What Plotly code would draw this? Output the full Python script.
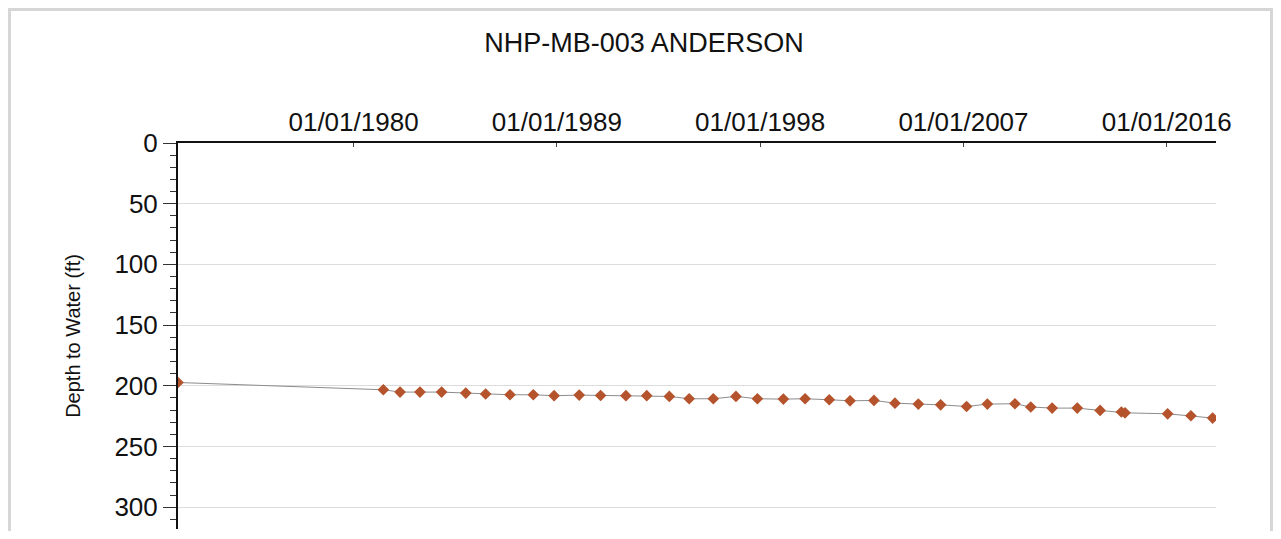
import plotly.graph_objects as go

dates = [
    "1972-03-25", "1981-04-27", "1982-01-22", "1982-12-10", "1983-11-25",
    "1984-12-20", "1985-11-06", "1986-12-05", "1987-12-17", "1988-11-17",
    "1989-12-28", "1990-12-09", "1992-01-22", "1992-12-24", "1993-12-24",
    "1994-11-10", "1995-12-05", "1996-12-05", "1997-11-17", "1999-01-11",
    "1999-12-28", "2001-01-22", "2001-12-24", "2003-01-15", "2003-12-20",
    "2005-01-01", "2005-12-28", "2007-02-20", "2008-01-22", "2009-04-12",
    "2009-12-24", "2010-12-05", "2012-01-15", "2013-01-18", "2013-12-28",
    "2014-02-25", "2016-01-15", "2017-01-25", "2018-01-11",
]
depth_ft = [
    197.3, 203.3, 205.2, 205.2, 205.2,
    206.0, 206.8, 207.4, 207.4, 208.2,
    207.7, 208.0, 208.2, 208.2, 208.8,
    210.7, 210.7, 208.8, 210.7, 211.0,
    210.7, 211.5, 212.4, 212.1, 214.3,
    215.1, 215.7, 217.1, 215.1, 214.8,
    217.5, 218.4, 218.4, 220.3, 221.6,
    222.3, 223.1, 224.7, 226.6,
]

title_text = "NHP-MB-003 ANDERSON"
y_title = "Depth to Water (ft)"
x_range = ["1972-03-25", "2018-03-07"]
y_range = [318, 0]

fig = go.Figure()
fig.add_trace(go.Scatter(
    x=dates, y=depth_ft, mode="lines+markers",
    line=dict(color="#8c8c8c", width=1),
    marker=dict(symbol="diamond", size=9, color="#b4532c",
                line=dict(width=0)),
    showlegend=False,
))

OFF = 8  # page body offset
W, H = 1265, 523
L, T = 178 - OFF, 143 - OFF
R = W - (1216 - OFF)
B = H - (529 - OFF)
pw, ph = W - L - R, H - T - B

def px_x(x):
    return (x - OFF - L) / pw

def px_y(y):
    return (H - B - (y - OFF)) / ph

fig.update_layout(
    width=W, height=H,
    margin=dict(l=L, r=R, t=T, b=B, pad=0),
    paper_bgcolor="white", plot_bgcolor="white",
    font=dict(family="Liberation Sans, Arial, sans-serif", color="#111", size=26),
    title=dict(text=title_text, x=(644 - OFF) / W, xanchor="center",
               y=1 - (43 - OFF) / H, yanchor="middle",
               font=dict(size=27, color="#111")),
    xaxis=dict(
        type="date", side="top", range=x_range,
        tick0="1980-01-01", dtick="M108", tickformat="%m/%d/%Y",
        ticks="inside", ticklen=4, tickcolor="#444", tickwidth=1,
        showline=True, linecolor="#111", linewidth=2,
        showgrid=False, zeroline=False,
        tickfont=dict(size=26, color="#111"),
    ),
    yaxis=dict(
        range=y_range, tick0=0, dtick=50,
        ticks="outside", ticklen=13, tickcolor="#333", tickwidth=1,
        showline=True, linecolor="#111", linewidth=2,
        showgrid=True, gridcolor="#dcdcdc", gridwidth=1,
        zeroline=False,
        tickfont=dict(size=26, color="#111"),
        title=dict(text=y_title, font=dict(size=20, color="#111"), standoff=28),
        minor=dict(dtick=10, ticks="outside", ticklen=6, tickcolor="#333",
                   showgrid=False),
    ),
    shapes=[dict(
        type="rect", xref="paper", yref="paper",
        x0=px_x(9.5), x1=px_x(1271.5), y0=px_y(600), y1=px_y(9.5),
        line=dict(color="#d6d6d6", width=3), fillcolor="rgba(0,0,0,0)",
        layer="below",
    )],
)

fig.write_html("out.html")
